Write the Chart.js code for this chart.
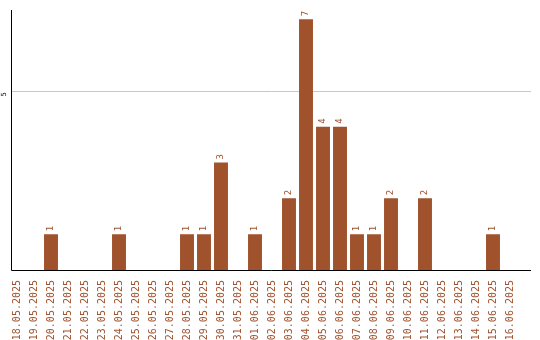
<!DOCTYPE html>
<html>
<head>
<meta charset="utf-8">
<script src="https://cdn.jsdelivr.net/npm/chart.js@4/dist/chart.umd.min.js"></script>
<style>
  html, body { margin: 0; padding: 0; background: #fff; }
  #wrap { width: 540px; height: 340px; position: relative; }
</style>
</head>
<body>
<div id="wrap"><canvas id="chart"></canvas></div>
<script>
// dates on the x axis
const dates = [
  '18.05.2025', '19.05.2025', '20.05.2025', '21.05.2025', '22.05.2025',
  '23.05.2025', '24.05.2025', '25.05.2025', '26.05.2025', '27.05.2025',
  '28.05.2025', '29.05.2025', '30.05.2025', '31.05.2025', '01.06.2025',
  '02.06.2025', '03.06.2025', '04.06.2025', '05.06.2025', '06.06.2025',
  '07.06.2025', '08.06.2025', '09.06.2025', '10.06.2025', '11.06.2025',
  '12.06.2025', '13.06.2025', '14.06.2025', '15.06.2025', '16.06.2025'
];
// count per day
const counts = [
  0, 0, 1, 0, 0, 0, 1, 0, 0, 0,
  1, 1, 3, 0, 1, 0, 2, 7, 4, 4,
  1, 1, 2, 0, 2, 0, 0, 0, 1, 0
];
// y tick shown
const yTicks = [5];

const barColor = '#a0522d';
const textColor = '#a0522d';

// axis lines, grid line and y tick label, a bit wider than the category area
const axesPlugin = {
  id: 'axesLines',
  beforeDatasetsDraw(chart) {
    const {ctx, chartArea, scales} = chart;
    const left = 11.5, right = 531;
    ctx.save();
    ctx.lineWidth = 1;
    yTicks.forEach(v => {
      const y = Math.round(scales.y.getPixelForValue(v)) + 0.5;
      ctx.strokeStyle = '#c8c8c8';
      ctx.beginPath();
      ctx.moveTo(left, y);
      ctx.lineTo(right, y);
      ctx.stroke();
      ctx.save();
      ctx.fillStyle = '#000';
      ctx.font = '7px "DejaVu Sans Mono"';
      ctx.textAlign = 'center';
      ctx.textBaseline = 'middle';
      ctx.translate(4, y + 3);
      ctx.rotate(-Math.PI / 2);
      ctx.fillText(String(v), 0, 0);
      ctx.restore();
    });
    const bottom = Math.round(chartArea.bottom) + 0.5;
    ctx.strokeStyle = '#000';
    ctx.beginPath();
    ctx.moveTo(left, chartArea.top);
    ctx.lineTo(left, bottom);
    ctx.lineTo(right, bottom);
    ctx.stroke();
    ctx.restore();
  }
};

// value labels above bars, rotated
const valuePlugin = {
  id: 'valueLabels',
  afterDatasetsDraw(chart) {
    const {ctx} = chart;
    const meta = chart.getDatasetMeta(0);
    ctx.save();
    ctx.fillStyle = textColor;
    ctx.font = '9px "DejaVu Sans Mono"';
    ctx.textAlign = 'left';
    ctx.textBaseline = 'middle';
    meta.data.forEach((bar, i) => {
      const v = counts[i];
      if (!v) return;
      ctx.save();
      ctx.translate(bar.x, bar.y - 3);
      ctx.rotate(-Math.PI / 2);
      ctx.fillText(String(v), 0, 0);
      ctx.restore();
    });
    ctx.restore();
  }
};

new Chart(document.getElementById('chart'), {
  type: 'bar',
  data: {
    labels: dates,
    datasets: [{
      data: counts,
      backgroundColor: barColor,
      borderWidth: 0,
      categoryPercentage: 1,
      barPercentage: 0.82
    }]
  },
  options: {
    responsive: true,
    maintainAspectRatio: false,
    animation: false,
    layout: { padding: { top: 10, right: 21.5, left: 0, bottom: 0 } },
    plugins: {
      legend: { display: false },
      tooltip: { enabled: false }
    },
    scales: {
      x: {
        grid: { display: false },
        border: { display: false },
        ticks: {
          autoSkip: false,
          minRotation: 90,
          maxRotation: 90,
          padding: 2,
          color: textColor,
          font: { family: 'DejaVu Sans Mono', size: 10 }
        },
        afterFit(scale) { scale.height = 70; }
      },
      y: {
        min: 0,
        max: 7.26,
        grid: { display: false },
        border: { display: false },
        afterBuildTicks(scale) {
          scale.ticks = yTicks.map(v => ({value: v}));
        },
        ticks: { display: false },
        afterFit(scale) { scale.width = 8.5; }
      }
    }
  },
  plugins: [axesPlugin, valuePlugin]
});
</script>
</body>
</html>
